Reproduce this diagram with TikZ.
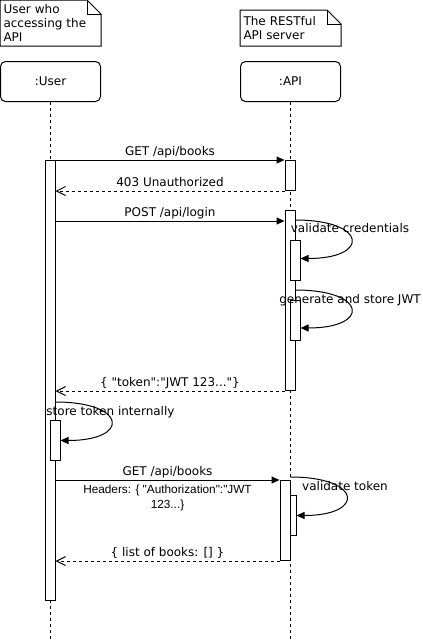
\documentclass[tikz,border=0pt]{standalone}
\usepackage{fontspec}
\setmainfont{DejaVu Sans}[Ligatures=TeXOff]
\newfontfamily\hdrfont{Liberation Sans}
\usetikzlibrary{arrows.meta,positioning}

\begin{document}
\begin{tikzpicture}[
  x=1pt, y=-1pt,
  line width=1pt,
  font=\fontsize{12}{14}\selectfont,
  notebox/.style={
    anchor=north west,
    text width=94pt,
    inner xsep=3pt,
    inner ysep=0pt,
    align=left,
    font=\fontsize{12}{13.7}\selectfont
  },
  headbox/.style={
    draw,
    rounded corners=5pt,
    minimum width=100pt,
    minimum height=40pt
  },
  lifeline/.style={dash pattern=on 3pt off 3pt},
  actbar/.style={
    draw,
    fill=white,
    minimum width=10pt,
    inner sep=0pt,
    anchor=north
  },
  call/.style={-{Triangle[length=8pt,width=7pt]}},
  reply/.style={
    -{Straight Barb[length=9pt,width=9pt]},
    dash pattern=on 3pt off 3pt
  },
  msg/.style={text height=9pt,text depth=3pt,inner sep=1pt},
  hdr/.style={font=\hdrfont\fontsize{11.8}{15}\selectfont,align=center,inner sep=1pt}
]
  \useasboundingbox (0,0) rectangle (423,641);
  \coordinate (bottom) at (0,641);

  % notes and heads
  \node[notebox,minimum height=45pt] (unote) at (0,0)
    {User who\\accessing the\\API};
  \node[notebox,minimum height=35pt] (anote) at (240,10)
    {The RESTful\\API server};
  \foreach \n in {unote,anote}{
    \draw (\n.north west) -- ([xshift=-14pt]\n.north east)
      -- ([yshift=-14pt]\n.north east) -- (\n.south east)
      -- (\n.south west) -- cycle;
    \draw ([xshift=-14pt]\n.north east) |- ([yshift=-14pt]\n.north east);
  }
  \node[headbox,below=15pt of unote] (user) {:User};
  \node[headbox,below=15pt of anote] (api) {:API};

  \draw[lifeline] (user) -- (user.south |- bottom);
  \draw[lifeline] (api) -- (api.south |- bottom);

  % activations
  \node[actbar,minimum height=440pt] (uact) at (50,160) {};
  \node[actbar,minimum height=30pt] (get1) at (290,160) {};
  \node[actbar,minimum height=180pt] (login) at (290,210) {};
  \node[actbar,minimum height=40pt] (check) at (295,240) {};
  \node[actbar,minimum height=40pt] (issue) at (295,300) {};
  \node[actbar,minimum height=40pt] (keep) at (55,420) {};
  \node[actbar,minimum height=80pt] (get2) at (285,480) {};
  \node[actbar,minimum height=40pt,minimum width=6pt] (verify) at (293,495) {};

  % messages
  \draw[call] (uact.east |- get1.north) -- (get1.north west)
    node[msg,midway,above] {GET /api/books};
  \draw[reply] (get1.south west) -- (uact.east |- get1.south)
    node[msg,midway,above] {403 Unauthorized};

  \coordinate (post) at ([yshift=-11pt]login.north west);
  \draw[call] (uact.east |- post) -- (post)
    node[msg,midway,above] {POST /api/login};

  \coordinate (chk0) at ([yshift=-10pt]login.north east);
  \draw[call] (chk0) .. controls +(72,0) and +(70,0) .. ([yshift=2pt]check.east);
  \node[msg,anchor=base] (chklbl) at (350,232.5) {validate credentials};

  \coordinate (iss0) at ([yshift=-80pt]login.north east);
  \draw[call] (iss0) .. controls +(72,0) and +(70,0) .. ([yshift=-7.5pt]issue.east);
  \node[msg,anchor=base] (isslbl) at (350,303.5) {generate and store JWT};

  \draw[reply] (login.south west) -- (uact.east |- login.south)
    node[msg,midway,above] {\{ "token":"JWT 123..."\}};

  \path (uact.east |- keep.north) ++(0,-18) coordinate (keep0);
  \draw[call] (keep0) .. controls +(72,0) and +(70,0) .. (keep.east);
  \node[msg,anchor=base] (keeplbl) at (110.5,415.5) {store token internally};

  \draw[call] (uact.east |- get2.north) -- (get2.north west)
    node[msg,midway,above] {GET /api/books}
    node[hdr,midway,below=3pt] {Headers: \{ "Authorization":"JWT\\123...\}};

  \coordinate (ver0) at ([yshift=3pt]get2.north east);
  \draw[call] (ver0) .. controls +(72,0) and +(69,0) .. (verify.east);
  \node[msg,anchor=base] (verlbl) at (345,490) {validate token};

  \draw[reply] (get2.south west) -- (uact.east |- get2.south)
    node[msg,midway,above] {\{ list of books: [] \}};
\end{tikzpicture}
\end{document}
